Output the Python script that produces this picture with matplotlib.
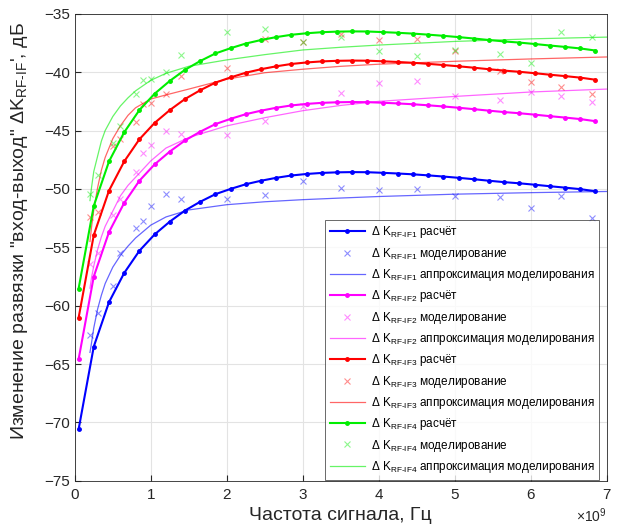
import numpy as np
from matplotlib import pyplot as plt
from matplotlib.lines import Line2D

plt.rcParams['font.family'] = ['Liberation Sans', 'DejaVu Sans']
plt.rcParams['mathtext.default'] = 'regular'

# calculated curves, frequency in GHz
calc_f = [0.05, 0.25, 0.45, 0.65, 0.85, 1.05, 1.25, 1.45, 1.65, 1.85, 2.05, 2.25,
          2.45, 2.65, 2.85, 3.05, 3.25, 3.45, 3.65, 3.85, 4.05, 4.25, 4.45, 4.65,
          4.85, 5.05, 5.25, 5.45, 5.65, 5.85, 6.05, 6.25, 6.45, 6.65, 6.85]
calc_if1 = [-70.6, -63.5, -59.7, -57.2, -55.3, -53.9, -52.8, -51.85, -51.1, -50.45,
            -50.0, -49.6, -49.3, -49.05, -48.85, -48.72, -48.63, -48.58, -48.56, -48.57,
            -48.62, -48.68, -48.75, -48.84, -48.94, -49.05, -49.17, -49.3, -49.42, -49.52,
            -49.64, -49.77, -49.89, -50.02, -50.2]
calc_if2 = [-64.6, -57.5, -53.7, -51.2, -49.3, -47.9, -46.8, -45.85, -45.1, -44.45,
            -44.0, -43.6, -43.3, -43.05, -42.85, -42.72, -42.63, -42.58, -42.56, -42.57,
            -42.62, -42.68, -42.75, -42.84, -42.94, -43.05, -43.17, -43.3, -43.42, -43.52,
            -43.64, -43.77, -43.89, -44.02, -44.2]
calc_if3 = [-61.05, -53.95, -50.15, -47.65, -45.75, -44.35, -43.25, -42.3, -41.55, -40.9,
            -40.45, -40.05, -39.75, -39.5, -39.3, -39.17, -39.08, -39.03, -39.01, -39.02,
            -39.07, -39.13, -39.2, -39.29, -39.39, -39.5, -39.62, -39.75, -39.87, -39.97,
            -40.09, -40.22, -40.34, -40.47, -40.65]
calc_if4 = [-58.55, -51.45, -47.65, -45.15, -43.25, -41.85, -40.75, -39.8, -39.05, -38.4,
            -37.95, -37.55, -37.25, -37.0, -36.8, -36.67, -36.58, -36.53, -36.51, -36.52,
            -36.57, -36.63, -36.7, -36.79, -36.89, -37.0, -37.12, -37.25, -37.37, -37.47,
            -37.59, -37.72, -37.84, -37.97, -38.15]

# simulation points
sim_f = [0.2, 0.3, 0.5, 0.6, 0.8, 0.9, 1.0, 1.2, 1.4, 2.0, 2.5, 3.0, 3.5, 4.0, 4.5,
         5.0, 5.6, 6.0, 6.4, 6.8]
sim_if1 = [-62.5, -60.65, -58.3, -55.5, -53.37, -52.74, -51.5, -50.45, -50.85, -50.9,
           -50.5, -49.34, -49.9, -50.1, -50.0, -50.6, -50.7, -51.6, -50.6, -52.45]
sim_if2 = [-56.4, -55.5, -52.2, -50.85, -48.57, -46.94, -46.2, -45.08, -45.3, -45.4,
           -44.2, -42.94, -41.8, -40.91, -40.72, -42.08, -42.37, -41.66, -42.03, -42.54]
sim_if3 = [-52.37, -52.0, -46.3, -45.7, -44.3, -42.72, -42.63, -41.88, -40.3, -39.66,
           -37.15, -37.4, -36.77, -37.23, -37.2, -38.2, -39.94, -40.88, -41.31, -41.86]
sim_if4 = [-50.42, -48.8, -46.1, -44.6, -41.85, -40.7, -40.55, -40.0, -38.5, -36.6,
           -36.29, -37.4, -36.97, -38.17, -38.65, -38.08, -38.43, -39.23, -36.6, -37.03]

# approximation of simulation
appr_f = [0.2, 0.22, 0.25, 0.3, 0.35, 0.4, 0.5, 0.6, 0.7, 0.8, 1.0, 1.2, 1.5, 2.0,
          2.5, 3.0, 3.5, 4.0, 5.0, 6.0, 7.0]
appr_if1 = [-64.0, -63.2, -61.9, -60.3, -59.1, -58.1, -56.7, -55.7, -54.9, -54.2,
            -53.1, -52.4, -51.8, -51.35, -51.1, -50.92, -50.78, -50.65, -50.45, -50.32, -50.22]
appr_if2 = [-58.5, -57.6, -56.6, -55.2, -54.1, -53.2, -51.9, -50.6, -49.7, -49.0,
            -47.6, -46.5, -45.6, -44.6, -43.9, -43.3, -42.85, -42.5, -42.08, -41.7, -41.45]
appr_if3 = [-54.5, -53.3, -51.8, -49.9, -48.4, -47.3, -45.7, -44.6, -43.7, -43.05,
            -42.3, -41.95, -41.45, -40.6, -40.05, -39.75, -39.5, -39.32, -39.07, -38.87, -38.7]
appr_if4 = [-51.0, -49.9, -48.5, -47.2, -45.9, -45.0, -43.8, -42.9, -42.2, -41.6,
            -40.7, -40.1, -39.5, -38.95, -38.5, -38.1, -37.87, -37.68, -37.37, -37.15, -37.0]

names = ['RF\u2010IF1', 'RF\u2010IF2', 'RF\u2010IF3', 'RF\u2010IF4']
colors = ['#0000ff', '#ff00ff', '#ff0000', '#00ee00']
calc = [calc_if1, calc_if2, calc_if3, calc_if4]
sim = [sim_if1, sim_if2, sim_if3, sim_if4]
appr = [appr_if1, appr_if2, appr_if3, appr_if4]

fig = plt.figure(figsize=(6.18, 5.29), dpi=100)
ax = fig.add_axes([0.121, 0.091, 0.861, 0.883])

cf = np.array(calc_f) * 1e9
sf = np.array(sim_f) * 1e9
af = np.array(appr_f) * 1e9

handles = []
labels = []
for i in range(4):
    c = colors[i]
    ax.plot(cf, calc[i], '-', color=c, lw=1.5, marker='o', ms=2.5)
    ax.plot(sf, sim[i], 'x', color=c, ms=5, mew=0.8, alpha=0.45, ls='none')
    ax.plot(af, appr[i], '-', color=c, lw=0.9, alpha=0.6)
    sub = '$\\Delta$ K$_{' + names[i] + '}$ '
    handles += [Line2D([], [], color=c, lw=1.5, marker='o', ms=2.5),
                Line2D([], [], color=c, marker='x', ms=5, mew=0.8, alpha=0.45, ls='none'),
                Line2D([], [], color=c, lw=0.9, alpha=0.6)]
    labels += [sub + 'расчёт', sub + 'моделирование', sub + 'аппроксимация моделирования']

ax.set_xlim(0, 7e9)
ax.set_ylim(-75, -35)
ax.set_xticks(np.arange(0, 8) * 1e9)
ax.set_yticks(np.arange(-75, -34, 5))
ax.ticklabel_format(axis='x', style='sci', scilimits=(9, 9), useMathText=True)
ax.grid(True, color='#e3e3e3', lw=0.8)
ax.set_axisbelow(True)
ax.tick_params(direction='in', labelsize=11, colors='#262626', length=4)
ax.tick_params(axis='x', pad=5)
for s in ax.spines.values():
    s.set_color('#262626')
    s.set_linewidth(0.6)
ax.xaxis.get_offset_text().set_fontsize(10)
ax.xaxis.get_offset_text().set_color('#262626')

ax.set_xlabel('Частота сигнала, Гц', fontsize=14, color='#262626', labelpad=4)
ax.set_ylabel("Изменение развязки \"вход-выход\" $\\Delta$K$_{RF\u2010IF}$', дБ", fontsize=14,
              color='#262626')
ax.yaxis.set_label_coords(-0.085, 0.535)

leg = ax.legend(handles, labels, loc='lower right', fontsize=8.5, handlelength=3.0,
                handletextpad=0.5, labelspacing=0.45, borderpad=0.4, fancybox=False,
                bbox_to_anchor=(0.997, -0.01))
leg.get_frame().set_edgecolor('#262626')
leg.get_frame().set_linewidth(0.6)

fig.savefig('out.png', dpi=100)
